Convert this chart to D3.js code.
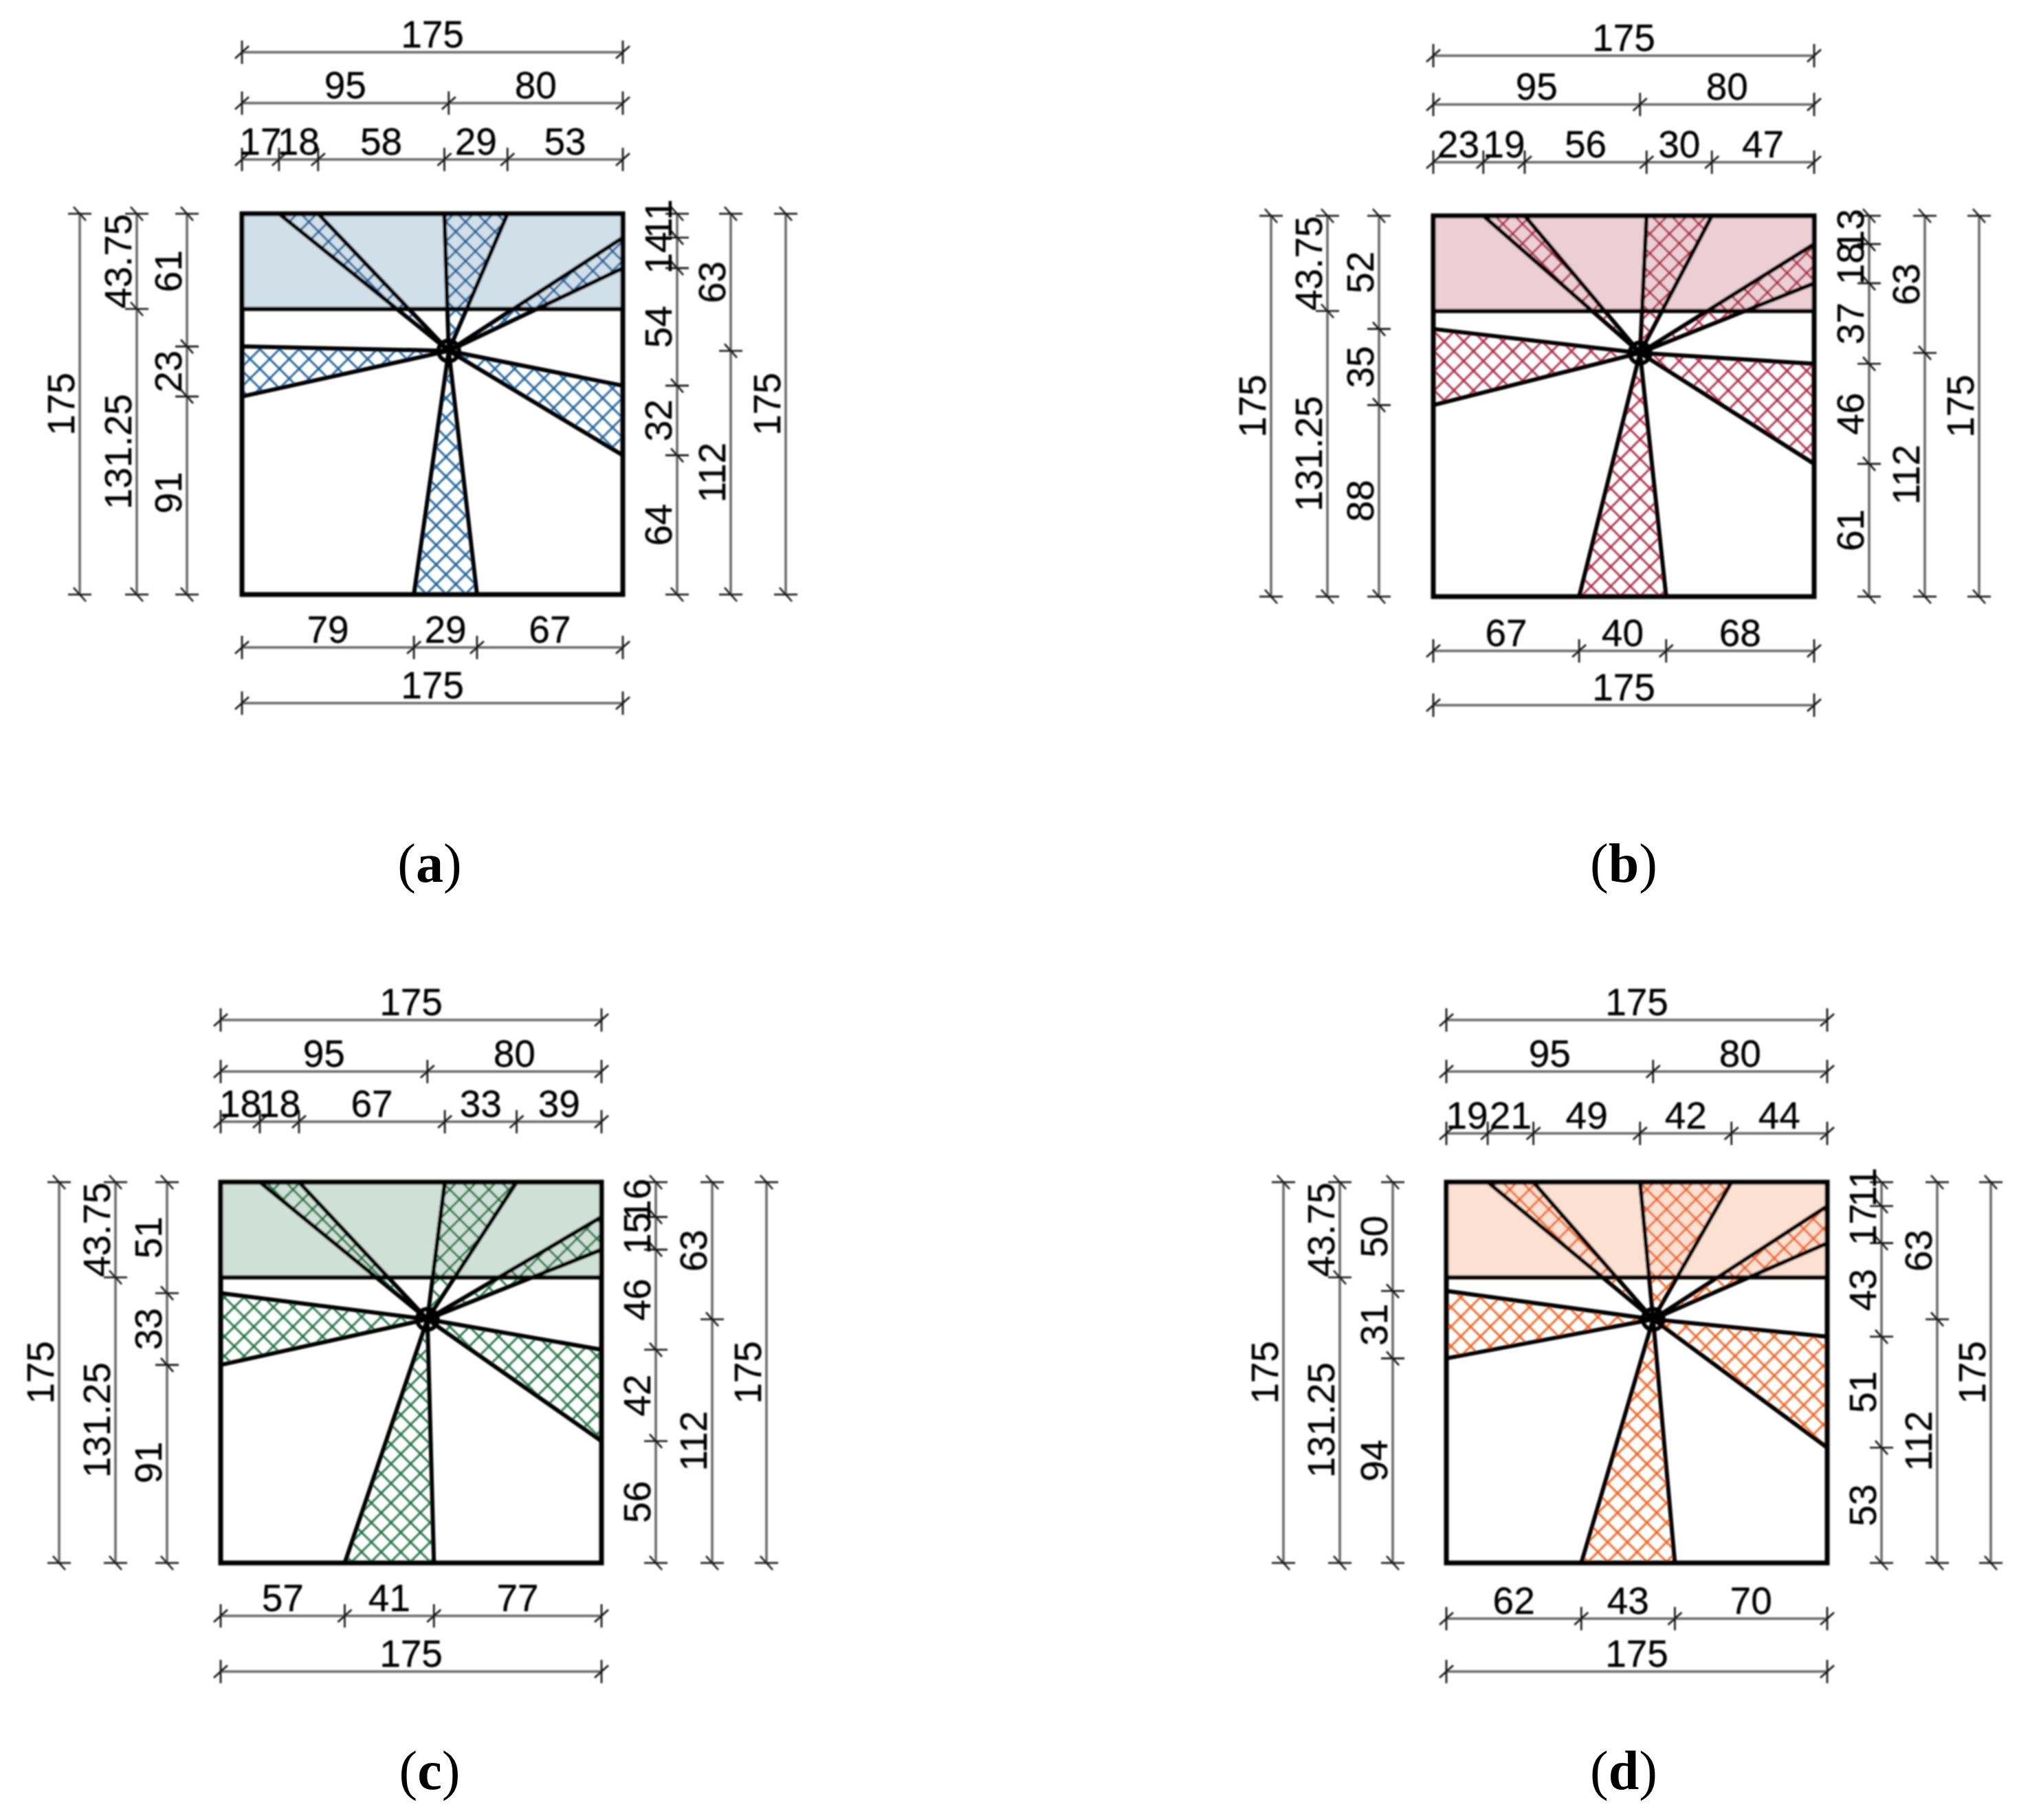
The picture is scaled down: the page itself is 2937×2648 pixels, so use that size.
<!DOCTYPE html>
<html>
<head>
<meta charset="utf-8">
<script src="https://cdn.jsdelivr.net/npm/d3@7"></script>
<style>
  html, body { margin: 0; padding: 0; background: #fff; }
  text { font-family: "Liberation Sans", Arial, sans-serif; font-size: 55px; fill: #000; }
  .chain text { stroke: #000; stroke-width: 0.3px; }
  .caption { font-family: "Liberation Serif", "Times New Roman", serif; font-size: 80px; fill: #000; }
</style>
</head>
<body>
<div id="chart"></div>
<script>
// Dimensions, all in the same units (side = 175)
var sideTotal = [175];
var splitX = [95, 80];
var splitBand = [43.75, 131.25];
var splitRight = [63, 112];

// Top, bottom, left and right chains per panel
var topA = [17, 18, 58, 29, 53], bottomA = [79, 29, 67], leftA = [61, 23, 91], rightA = [11, 14, 54, 32, 64];
var topB = [23, 19, 56, 30, 47], bottomB = [67, 40, 68], leftB = [52, 35, 88], rightB = [13, 18, 37, 46, 61];
var topC = [18, 18, 67, 33, 39], bottomC = [57, 41, 77], leftC = [51, 33, 91], rightC = [16, 15, 46, 42, 56];
var topD = [19, 21, 49, 42, 44], bottomD = [62, 43, 70], leftD = [50, 31, 94], rightD = [11, 17, 43, 51, 53];

var captions = ["a", "b", "c", "d"];

// Layout per panel, pixels
var panels = [
  {key: "a", top: topA, bottom: bottomA, left: leftA, right: rightA, x: 352, y: 311, band: "#d0dfe8", hatch: "#1f5f98", capX: 625, capY: 1283,
   topOff: [79, 161, 235], botOff: [77, 158], leftOff: [80, 153, 236], rightOff: [79, 157, 237], hx: 663, hy: 337, leftShift: [-13, 0, -4]},
  {key: "b", top: topB, bottom: bottomB, left: leftB, right: rightB, x: 2085, y: 314, band: "#eccfd5", hatch: "#ab2c48", capX: 2362, capY: 1283,
   topOff: [78, 162, 233], botOff: [79, 158], leftOff: [79, 154, 236], rightOff: [80, 161, 240], hx: 2400, hy: 340, leftShift: [0, 0, 0]},
  {key: "c", top: topC, bottom: bottomC, left: leftC, right: rightC, x: 321, y: 1720, band: "#cfe0d6", hatch: "#217043", capX: 625, capY: 2603,
   topOff: [88, 161, 236], botOff: [77, 158], leftOff: [78, 153, 235], rightOff: [79, 161, 240], hx: 640, hy: 1745, leftShift: [0, 0, -2]},
  {key: "d", top: topD, bottom: bottomD, left: leftD, right: rightD, x: 2104, y: 1720, band: "#fce0d1", hatch: "#ee6222", capX: 2362, capY: 2603,
   topOff: [71, 161, 236], botOff: [81, 158], leftOff: [78, 155, 237], rightOff: [79, 160, 238], hx: 2410, hy: 1745, leftShift: [0, 0, 0]}
];

var size = 554, hatchStep = 28.5;
var scale = d3.scaleLinear().domain([0, 175]).range([0, size]);

var svg = d3.select("#chart").append("svg")
    .attr("width", 2937)
    .attr("height", 2648)
    .style("display", "block");

var defs = svg.append("defs");
// the source is a slightly soft raster, the captions are not
defs.append("filter").attr("id", "soft")
    .attr("filterUnits", "userSpaceOnUse")
    .attr("x", 0).attr("y", 0).attr("width", 2937).attr("height", 2648)
  .append("feGaussianBlur").attr("stdDeviation", 0.9);

var drawing = svg.append("g").attr("filter", "url(#soft)");

var line = d3.line().x(function(d) { return scale(d[0]); }).y(function(d) { return scale(d[1]); });

function chain(g, side, offset, values, shifts) {
  var horizontal = side === "top" || side === "bottom";
  var cuts = [0].concat(Array.from(d3.cumsum(values)));
  var pos = side === "top" ? -offset : side === "left" ? -offset : size + offset;
  var c = g.append("g").attr("class", "chain " + side);

  c.append("line")
      .attr("stroke", "#666").attr("stroke-width", 3.5)
      .attr("x1", horizontal ? scale(0) : pos).attr("x2", horizontal ? scale(175) : pos)
      .attr("y1", horizontal ? pos : scale(0)).attr("y2", horizontal ? pos : scale(175));

  // extension stroke plus the slash at every cut
  c.selectAll("path.tick").data(cuts).enter().append("path")
      .attr("class", "tick")
      .attr("fill", "none").attr("stroke", "#111").attr("stroke-width", 2.6)
      .attr("d", function(d) {
        var p = scale(d);
        return horizontal
          ? "M" + p + "," + (pos - 17) + "V" + (pos + 17) + "M" + (p - 10) + "," + (pos + 9) + "L" + (p + 10) + "," + (pos - 9)
          : "M" + (pos - 17) + "," + p + "H" + (pos + 17) + "M" + (pos - 9) + "," + (p - 10) + "L" + (pos + 9) + "," + (p + 10);
      });

  c.selectAll("text").data(values).enter().append("text")
      .attr("text-anchor", "middle")
      .attr("transform", function(d, i) {
        var mid = scale(cuts[i] + d / 2) + (shifts ? shifts[i] : 0);
        // the 11 at the head of a tight right chain rides up past the corner
        if (side === "right" && i === 0 && d <= 11) mid -= 10;
        return horizontal
          ? "translate(" + mid + "," + (pos - 7) + ")"
          : "translate(" + (pos - 8) + "," + mid + ") rotate(-90)";
      })
      .text(function(d) { return String(d); });
}

panels.forEach(function(p) {
  var pid = "hatch-" + p.key;
  // tile crossing sits on the tile centre
  var tile = defs.append("pattern").attr("id", pid)
      .attr("patternUnits", "userSpaceOnUse")
      .attr("x", p.hx - p.x - hatchStep / 2).attr("y", p.hy - p.y - hatchStep / 2)
      .attr("width", hatchStep).attr("height", hatchStep);
  tile.append("path")
      .attr("fill", "none").attr("stroke", p.hatch).attr("stroke-width", 2.8)
      .attr("d", "M-7,-7L" + (hatchStep + 7) + "," + (hatchStep + 7) + "M" + (hatchStep + 7) + ",-7L-7," + (hatchStep + 7));

  var g = drawing.append("g").attr("id", "panel-" + p.key)
      .attr("transform", "translate(" + p.x + "," + p.y + ")");

  var cx = splitX[0], cy = splitRight[0], bandY = splitBand[0];

  // shaded band across the top
  g.append("path").attr("fill", p.band)
      .attr("d", line([[0, 0], [175, 0], [175, bandY], [0, bandY]]) + "Z");

  var t = Array.from(d3.cumsum(p.top)), r = Array.from(d3.cumsum(p.right));
  var b = Array.from(d3.cumsum(p.bottom)), l = Array.from(d3.cumsum(p.left));
  var wedges = [
    [[t[0], 0], [t[1], 0], [cx, cy]],
    [[t[2], 0], [t[3], 0], [cx, cy]],
    [[175, r[0]], [175, r[1]], [cx, cy]],
    [[175, r[2]], [175, r[3]], [cx, cy]],
    [[b[0], 175], [b[1], 175], [cx, cy]],
    [[0, l[0]], [0, l[1]], [cx, cy]]
  ];

  g.selectAll("path.wedge").data(wedges).enter().append("path")
      .attr("class", "wedge")
      .attr("fill", "url(#" + pid + ")")
      .attr("stroke", "#000").attr("stroke-width", 6).attr("stroke-linejoin", "round")
      .attr("d", function(d) { return line(d) + "Z"; });

  g.append("path").attr("fill", "none").attr("stroke", "#000").attr("stroke-width", 7)
      .attr("d", line([[0, 0], [175, 0], [175, 175], [0, 175]]) + "Z");
  g.append("path").attr("fill", "none").attr("stroke", "#000").attr("stroke-width", 6)
      .attr("d", line([[0, bandY], [175, bandY]]));

  g.append("circle")
      .attr("cx", scale(cx)).attr("cy", scale(cy)).attr("r", 15)
      .attr("fill", "none").attr("stroke", "#000").attr("stroke-width", 6);

  chain(g, "top", p.topOff[0], p.top);
  chain(g, "top", p.topOff[1], splitX);
  chain(g, "top", p.topOff[2], sideTotal);
  chain(g, "bottom", p.botOff[0], p.bottom);
  chain(g, "bottom", p.botOff[1], sideTotal);
  chain(g, "left", p.leftOff[0], p.left, p.leftShift);
  chain(g, "left", p.leftOff[1], splitBand);
  chain(g, "left", p.leftOff[2], sideTotal);
  chain(g, "right", p.rightOff[0], p.right);
  chain(g, "right", p.rightOff[1], splitRight);
  chain(g, "right", p.rightOff[2], sideTotal);
});

// captions, letter in bold
var cap = svg.selectAll("text.caption").data(panels).enter().append("text")
    .attr("class", "caption")
    .attr("text-anchor", "middle")
    .attr("x", function(d) { return d.capX; })
    .attr("y", function(d) { return d.capY; });
cap.append("tspan").text("(");
cap.append("tspan").attr("font-weight", "bold").text(function(d, i) { return captions[i]; });
cap.append("tspan").text(")");
</script>
</body>
</html>
